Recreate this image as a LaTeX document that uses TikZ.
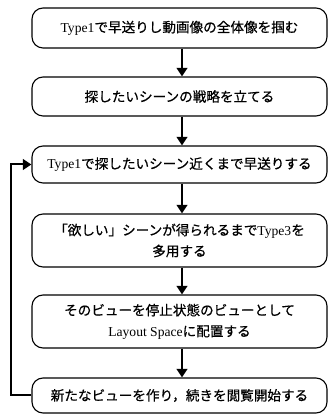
\documentclass[tikz,border=0pt]{standalone}
\usepackage{fontspec}
\setmainfont{Liberation Serif}
\newfontfamily\jp[FakeBold=0.6]{Noto Sans CJK JP}
\usetikzlibrary{arrows.meta}
\begin{document}
\begin{tikzpicture}[x=1pt,y=1pt,
  box/.style={draw, line width=1.1pt, rounded corners=11pt, minimum width=295pt,
    inner sep=0pt, align=center, font=\fontsize{13.6}{21}\selectfont},
  flow/.style={line width=2pt, -{Triangle[width=10.5pt,length=8.5pt]}}]
\useasboundingbox (0,0) rectangle (334,414);
\node[box, minimum height=40pt] (b1) at (179.5,386) {Type1{\jp で早送りし動画像の全体像を掴む}};
\node[box, minimum height=39pt] (b2) at (179.5,317.5) {{\jp 探したいシーンの戦略を立てる}};
\node[box, minimum height=37pt] (b3) at (179.5,249.5) {Type1{\jp で探したいシーン近くまで早送りする}};
\node[box, minimum height=53pt] (b4) at (179.5,173.5) {{\jp 「欲しい」シーンが得られるまで}Type3{\jp を}\\{\jp 多用する}};
\node[box, minimum height=53pt] (b5) at (179.5,92.5) {{\jp そのビューを停止状態のビューとして}\\Layout Space{\jp に配置する}};
\node[box, minimum height=35pt] (b6) at (179.5,18.5) {{\jp 新たなビューを作り，続きを閲覧開始する}};
\draw[flow] ([xshift=2.5pt]b1.south) -- ([xshift=2.5pt]b2.north);
\draw[flow] ([xshift=2.5pt]b2.south) -- ([xshift=2.5pt]b3.north);
\draw[flow] ([xshift=2.5pt]b3.south) -- ([xshift=2.5pt]b4.north);
\draw[flow] ([xshift=2.5pt]b4.south) -- ([xshift=2.5pt]b5.north);
\draw[flow] ([xshift=2.5pt]b5.south) -- ([xshift=2.5pt]b6.north);
\coordinate (fl) at (11,100);
\draw[flow] (b6.west) -| (fl) |- (b3.west);
\end{tikzpicture}
\end{document}
